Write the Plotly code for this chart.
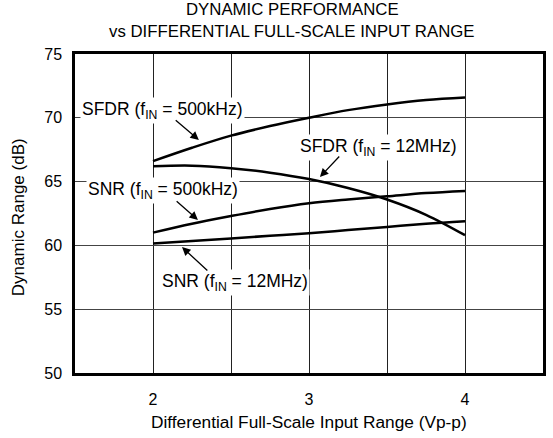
import plotly.graph_objects as go

# Data
x_vals = [2.0, 2.25, 2.5, 2.75, 3.0, 3.25, 3.5, 3.75, 4.0]
sfdr_500k = [66.6, 67.65, 68.6, 69.35, 70.0, 70.6, 71.05, 71.4, 71.6]
sfdr_12m = [66.2, 66.25, 66.05, 65.7, 65.2, 64.5, 63.6, 62.4, 60.8]
snr_500k = [61.0, 61.7, 62.3, 62.85, 63.3, 63.6, 63.85, 64.1, 64.27]
snr_12m = [60.15, 60.35, 60.55, 60.75, 60.95, 61.2, 61.45, 61.7, 61.9]

x_ticks = [2, 3, 4]
y_ticks = [50, 55, 60, 65, 70, 75]

title_lines = ["DYNAMIC PERFORMANCE", "vs DIFFERENTIAL FULL-SCALE INPUT RANGE"]
x_title = "Differential Full-Scale Input Range (Vp-p)"
y_title = "Dynamic Range (dB)"

FONT = "Liberation Sans, Arial, sans-serif"

fig = go.Figure()
for ys in [sfdr_500k, sfdr_12m, snr_500k, snr_12m]:
    fig.add_trace(go.Scatter(x=x_vals, y=ys, mode="lines",
                             line=dict(color="black", width=2.5, shape="spline"),
                             showlegend=False, hoverinfo="skip"))

labels = [
    ("SFDR (f<sub>IN</sub> = 500kHz)", 2.058, 70.61),
    ("SNR (f<sub>IN</sub> = 500kHz)", 2.066, 64.34),
    ("SFDR (f<sub>IN</sub> = 12MHz)", 3.445, 67.71),
    ("SNR (f<sub>IN</sub> = 12MHz)", 2.523, 57.13),
]
arrows = [
    (2.136, 69.91, 2.294, 68.26),
    (2.142, 63.56, 2.288, 61.99),
    (3.203, 67.08, 3.070, 65.36),
    (2.358, 57.92, 2.186, 59.87),
]
annotations = []
for (tx, xx, yy) in labels:
    annotations.append(dict(x=xx, y=yy, xref="x", yref="y", text=tx, showarrow=False,
                            bgcolor="white", font=dict(size=17.5, color="black", family=FONT),
                            xanchor="center", yanchor="middle", borderpad=1))
for (ax, ay, hx, hy) in arrows:
    annotations.append(dict(x=hx, y=hy, ax=ax, ay=ay, xref="x", yref="y", axref="x", ayref="y",
                            text="", showarrow=True, arrowhead=2, arrowsize=1.3, arrowwidth=1.3,
                            arrowcolor="black", standoff=0, startstandoff=0))

# titles as paper-positioned texts
annotations.append(dict(x=0.464, y=1.138, xref="paper", yref="paper", text=title_lines[0],
                        showarrow=False, xanchor="center", yanchor="middle",
                        font=dict(size=16.8, family=FONT, color="black")))
annotations.append(dict(x=0.464, y=1.069, xref="paper", yref="paper", text=title_lines[1],
                        showarrow=False, xanchor="center", yanchor="middle",
                        font=dict(size=16.8, family=FONT, color="black")))
annotations.append(dict(x=0.5, y=-0.1536, xref="paper", yref="paper", text=x_title,
                        showarrow=False, xanchor="center", yanchor="middle",
                        font=dict(size=17.3, family=FONT, color="black")))
annotations.append(dict(x=-0.1208, y=0.49, xref="paper", yref="paper", text=y_title,
                        showarrow=False, xanchor="center", yanchor="middle", textangle=-90,
                        font=dict(size=17, family=FONT, color="black")))

fig.update_layout(
    width=553, height=438,
    margin=dict(l=75, r=7, t=54, b=65),
    paper_bgcolor="white", plot_bgcolor="white",
    font=dict(family=FONT, size=16, color="black"),
    xaxis=dict(range=[1.5, 4.5], tickvals=x_ticks, ticktext=[str(t) for t in x_ticks],
               showgrid=True, gridcolor="#222", gridwidth=1,
               showline=True, linecolor="black", linewidth=2.5, mirror=True,
               ticks="", zeroline=False, fixedrange=True, ticklabelstandoff=10,
               tickfont=dict(size=16, family=FONT),
               minor=dict(tickvals=[2.5, 3.5], showgrid=True, gridcolor="#222", gridwidth=1)),
    yaxis=dict(range=[50, 75], tickvals=y_ticks, showgrid=True, gridcolor="#444", gridwidth=1,
               showline=True, linecolor="black", linewidth=2.5, mirror=True,
               ticks="", zeroline=False, fixedrange=True, ticklabelstandoff=7,
               tickfont=dict(size=16, family=FONT)),
    annotations=annotations,
)

fig.write_html("out.html")
